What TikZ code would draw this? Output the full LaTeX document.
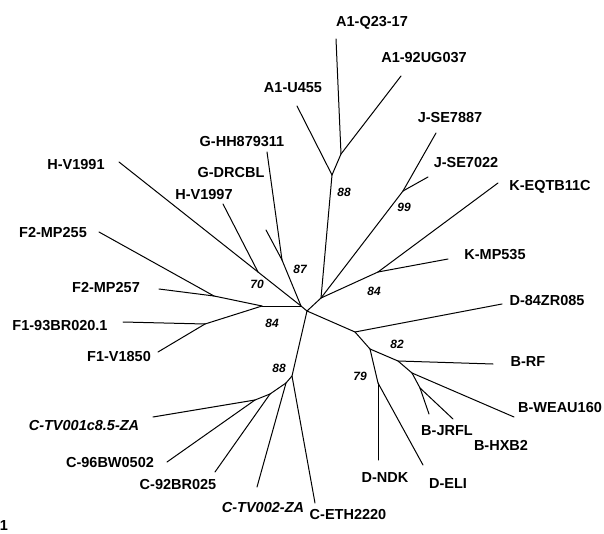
\documentclass[tikz,border=0pt]{standalone}
\usepackage{fontspec}
\setmainfont{Liberation Sans}
\begin{document}
\begin{tikzpicture}[x=1pt,y=-1pt,
  br/.style={line width=1pt, line cap=round, line join=round},
  lab/.style={font=\fontsize{14.5}{16}\selectfont\bfseries, inner sep=0pt, anchor=base},
  ilab/.style={font=\fontsize{14.5}{16}\selectfont\bfseries\itshape, inner sep=0pt, anchor=base},
  bs/.style={font=\fontsize{12}{14}\selectfont\bfseries\itshape, inner sep=0pt, anchor=base}]
\useasboundingbox (0,0) rectangle (604,534);
% internal nodes and tips
\coordinate (c1) at (301,306);
\coordinate (c2) at (307,311);
\coordinate (najk) at (321,298);
\coordinate (na) at (332,175);
\coordinate (na2) at (341,154);
\coordinate (tA1Q) at (336,39);
\coordinate (tA192) at (401,76);
\coordinate (tA1U) at (297,106);
\coordinate (nj) at (403,191);
\coordinate (tJ87) at (436,133);
\coordinate (tJ22) at (428,177);
\coordinate (nk) at (378,272);
\coordinate (tKE) at (498,183);
\coordinate (tKM) at (448,259);
\coordinate (ndb) at (355,332);
\coordinate (tD84) at (502,304);
\coordinate (nbd) at (370,349);
\coordinate (nb) at (398,361);
\coordinate (tBRF) at (493,364);
\coordinate (nb2) at (412,373);
\coordinate (tBW) at (514,417);
\coordinate (nb3) at (420,388);
\coordinate (tBJ) at (429,414);
\coordinate (tBH) at (453,419);
\coordinate (nd) at (378,383);
\coordinate (tDN) at (378,460);
\coordinate (tDE) at (423,465);
\coordinate (nc) at (292,376);
\coordinate (tCE) at (315,503);
\coordinate (nc2) at (286,383);
\coordinate (tCT2) at (257,487);
\coordinate (nc3) at (270,394);
\coordinate (tC92) at (215,472);
\coordinate (nc4) at (255,400);
\coordinate (tCT1) at (153,417);
\coordinate (tC96) at (167,462);
\coordinate (nf) at (262,306);
\coordinate (nf2) at (214,296);
\coordinate (tF257) at (159,289);
\coordinate (tF255) at (99,232);
\coordinate (nf1) at (205,324);
\coordinate (tF193) at (123,322);
\coordinate (tF1V) at (158,352);
\coordinate (nh) at (258,272);
\coordinate (tHV91) at (119,162);
\coordinate (tHV97) at (223,204);
\coordinate (ng) at (282,260);
\coordinate (tGHH) at (267,152);
\coordinate (tGDR) at (266,230);
% branches
\draw[br] (c1) -- (c2);
\draw[br] (c2) -- (najk);
\draw[br] (najk) -- (na);
\draw[br] (na) -- (tA1U);
\draw[br] (na) -- (na2);
\draw[br] (na2) -- (tA1Q);
\draw[br] (na2) -- (tA192);
\draw[br] (najk) -- (nj);
\draw[br] (nj) -- (tJ87);
\draw[br] (nj) -- (tJ22);
\draw[br] (najk) -- (nk);
\draw[br] (nk) -- (tKE);
\draw[br] (nk) -- (tKM);
\draw[br] (c2) -- (ndb);
\draw[br] (ndb) -- (tD84);
\draw[br] (ndb) -- (nbd);
\draw[br] (nbd) -- (nb);
\draw[br] (nb) -- (tBRF);
\draw[br] (nb) -- (nb2);
\draw[br] (nb2) -- (tBW);
\draw[br] (nb2) -- (nb3);
\draw[br] (nb3) -- (tBJ);
\draw[br] (nb3) -- (tBH);
\draw[br] (nbd) -- (nd);
\draw[br] (nd) -- (tDN);
\draw[br] (nd) -- (tDE);
\draw[br] (c2) -- (nc);
\draw[br] (nc) -- (tCE);
\draw[br] (nc) -- (nc2);
\draw[br] (nc2) -- (tCT2);
\draw[br] (nc2) -- (nc3);
\draw[br] (nc3) -- (tC92);
\draw[br] (nc3) -- (nc4);
\draw[br] (nc4) -- (tCT1);
\draw[br] (nc4) -- (tC96);
\draw[br] (c1) -- (nf);
\draw[br] (nf) -- (nf2);
\draw[br] (nf2) -- (tF257);
\draw[br] (nf2) -- (tF255);
\draw[br] (nf) -- (nf1);
\draw[br] (nf1) -- (tF193);
\draw[br] (nf1) -- (tF1V);
\draw[br] (c1) -- (nh);
\draw[br] (nh) -- (tHV91);
\draw[br] (nh) -- (tHV97);
\draw[br] (c1) -- (ng);
\draw[br] (ng) -- (tGHH);
\draw[br] (ng) -- (tGDR);
% taxon labels
\node[lab] (lA1Q) at (372,27) {A1-Q23-17};
\node[lab] (lA192) at (424,63) {A1-92UG037};
\node[lab] (lA1U) at (293,93) {A1-U455};
\node[lab] (lJ87) at (450,123) {J-SE7887};
\node[lab] (lJ22) at (466,168) {J-SE7022};
\node[lab] (lKE) at (550,191) {K-EQTB11C};
\node[lab] (lKM) at (495,260) {K-MP535};
\node[lab] (lD84) at (547,305) {D-84ZR085};
\node[lab] (lBRF) at (528,366) {B-RF};
\node[lab] (lBW) at (560,412) {B-WEAU160};
\node[lab] (lBJ) at (447,435) {B-JRFL};
\node[lab] (lBH) at (501,450) {B-HXB2};
\node[lab] (lDN) at (385,482) {D-NDK};
\node[lab] (lDE) at (448,488) {D-ELI};
\node[lab] (lCE) at (348,519) {C-ETH2220};
\node[ilab] (lCT2) at (263,512) {C-TV002-ZA};
\node[lab] (lC92) at (178,489) {C-92BR025};
\node[lab] (lC96) at (110,467) {C-96BW0502};
\node[ilab] (lCT1) at (84,430) {C-TV001c8.5-ZA};
\node[lab] (lF1V) at (119,361) {F1-V1850};
\node[lab] (lF193) at (60,330) {F1-93BR020.1};
\node[lab] (lF257) at (106,292) {F2-MP257};
\node[lab] (lF255) at (53,238) {F2-MP255};
\node[lab] (lHV91) at (76,170) {H-V1991};
\node[lab] (lHV97) at (204,200) {H-V1997};
\node[lab] (lGDR) at (231,178) {G-DRCBL};
\node[lab] (lGHH) at (242,147) {G-HH879311};
\node[lab] (lone) at (4,530) {1};
% bootstrap values
\node[bs] (b88a) at (344,197) {88};
\node[bs] (b99) at (404,212) {99};
\node[bs] (b84k) at (374,295) {84};
\node[bs] (b82) at (397,348) {82};
\node[bs] (b79) at (360,380) {79};
\node[bs] (b88c) at (279,372) {88};
\node[bs] (b84f) at (272,327) {84};
\node[bs] (b70) at (257,288) {70};
\node[bs] (b87) at (300,273) {87};
\end{tikzpicture}
\end{document}
